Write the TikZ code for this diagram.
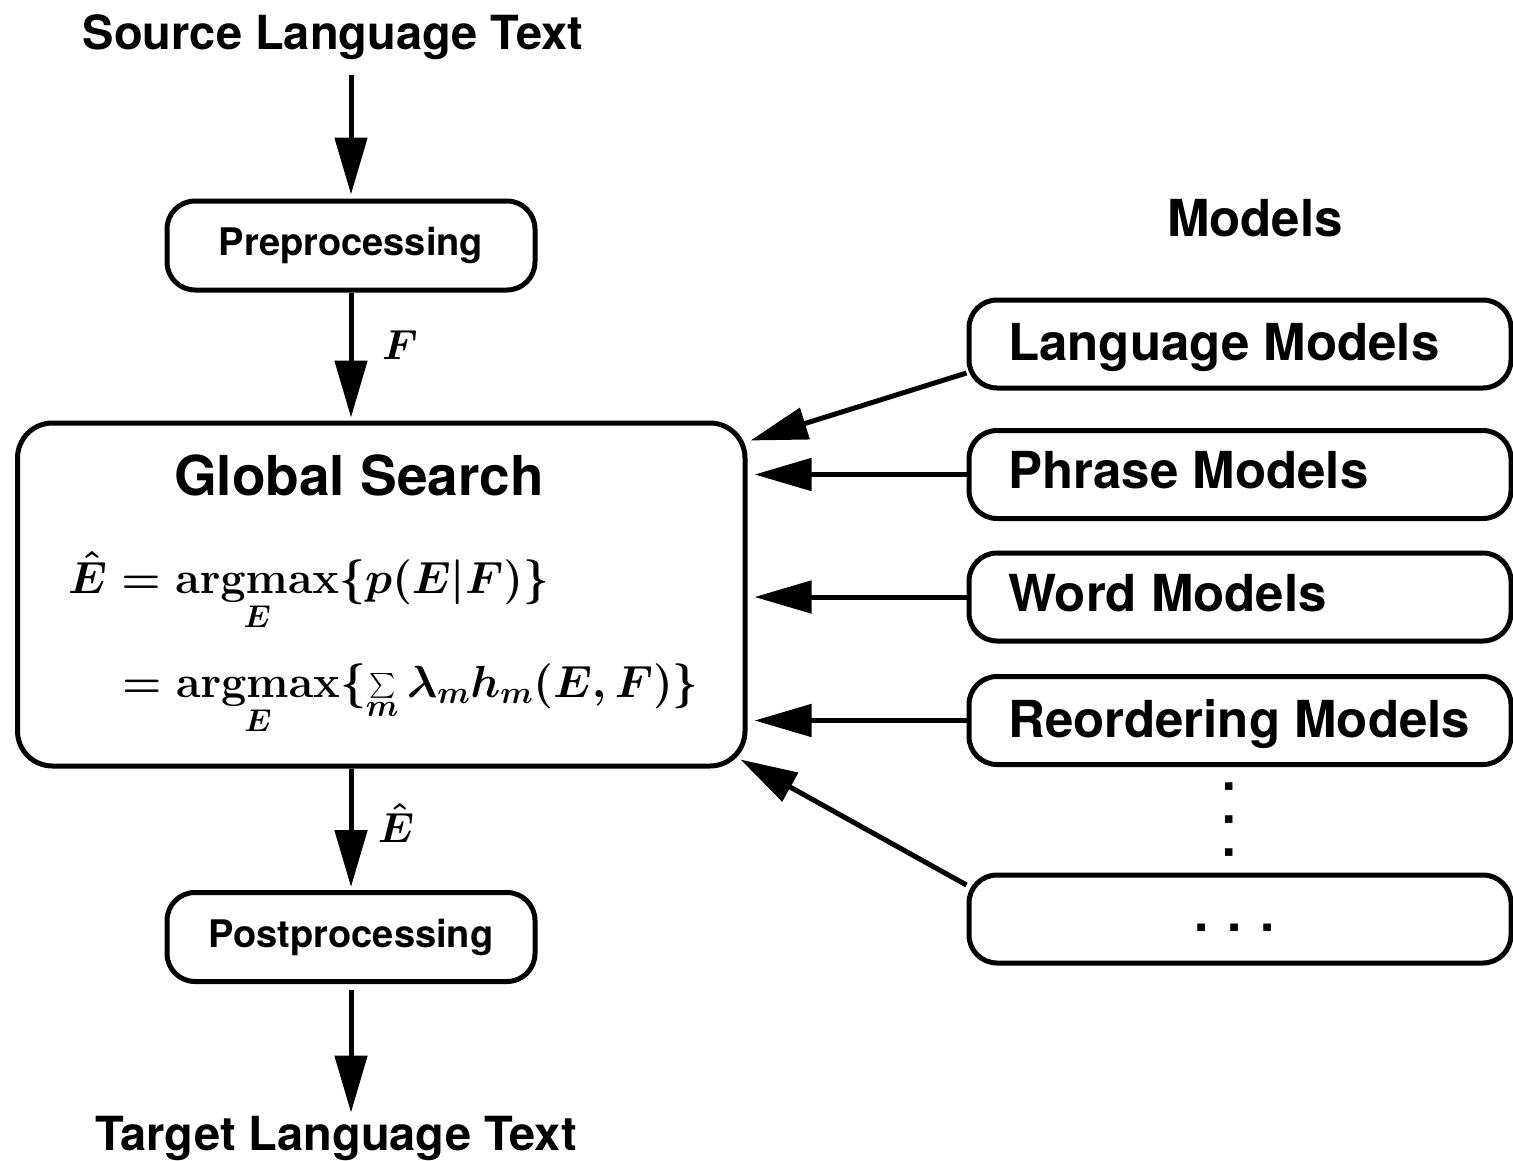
\RequirePackage{fix-cm}
\documentclass[tikz,border=0pt]{standalone}
\usepackage{amsmath}
\usepackage[no-math]{fontspec}
\setmainfont{TeX Gyre Heros}
\usetikzlibrary{arrows.meta}
\tikzset{
  arr/.style={line width=5pt, -{Triangle[length=57pt,width=32pt]}},
  procbox/.style={draw, line width=5pt, rounded corners=28pt, minimum width=368pt, minimum height=89pt, inner sep=0pt, font=\fontsize{38}{46}\selectfont\bfseries},
  mainbox/.style={draw, line width=5pt, rounded corners=35pt, minimum width=727.5pt, minimum height=343pt, inner sep=0pt},
  modelbox/.style={draw, line width=5pt, rounded corners=28pt, minimum width=542pt, minimum height=88pt, inner sep=0pt},
  modeltext/.style={anchor=base west, inner sep=0pt, font=\fontsize{51}{61}\selectfont\bfseries},
  titletext/.style={inner sep=0pt, anchor=base, font=\fontsize{47}{56}\selectfont\bfseries},
  mathlbl/.style={inner sep=0pt, font=\fontsize{42}{50}\selectfont\boldmath},
  formula/.style={inner sep=0pt, anchor=base west, font=\fontsize{45}{54}\selectfont\boldmath},
}
\begin{document}
\begin{tikzpicture}[x=1pt,y=-1pt]
\useasboundingbox (0,0) rectangle (1513,1160);
% left column
\node[titletext] (src) at (333,49) {Source Language Text};
\node[procbox] (pre) at (351,245.5) {Preprocessing};
\node[mainbox] (gs) at (381.25,594.5) {};
\node[inner sep=0pt, anchor=base, font=\fontsize{55}{66}\selectfont\bfseries] (gst) at (359,495) {Global Search};
\node[formula] (eq1) at (68,593) {$\hat{E} = \mathop{\mathrm{argmax}}\limits_{E}\{p(E|F)\}$};
\node[formula] (eq2) at (122,697) {$= \mathop{\mathrm{argmax}}\limits_{E}\{\sum\limits_{m}\lambda_{m}h_{m}(E,F)\}$};
\node[procbox] (post) at (351,937) {Postprocessing};
\node[titletext] (tgt) at (336,1150) {Target Language Text};
\node[mathlbl] (flbl) at (400,345) {$F$};
\node[mathlbl] (elbl) at (396,823) {$\hat{E}$};
% models
\node[modeltext, anchor=base] (mtitle) at (1255,236) {Models};
\node[modelbox] (lmbox) at (1240,344) {};
\node[modelbox] (pmbox) at (1240,474.5) {};
\node[modelbox] (wmbox) at (1240,597) {};
\node[modelbox] (rmbox) at (1240,720.5) {};
\node[modelbox] (dbox) at (1240,919) {};
\node[modeltext] (lmt) at (1008,360) {Language Models};
\node[modeltext] (pmt) at (1008,488) {Phrase Models};
\node[modeltext] (wmt) at (1008,611) {Word Models};
\node[modeltext] (rmt) at (1008,737) {Reordering Models};
\node[modeltext, anchor=center] (hdots) at (1235,928) {. . .};
\node[modeltext, anchor=center, rotate=-90] (vdots) at (1229,820) {. . .};
% connectors
\coordinate (gsr) at ([xshift=7pt]gs.east);
\draw[arr, shorten <=16pt, shorten >=4pt] (pre.north |- src.south) -- (pre.north);
\draw[arr, shorten >=3pt] (pre.south) -- (pre.south |- gs.north);
\draw[arr, shorten >=3pt] (post.north |- gs.south) -- (post.north);
\draw[arr, shorten <=6pt, shorten >=3pt] (post.south) -- (post.south |- tgt.north);
\draw[arr] ([yshift=-29pt]lmbox.west) -- ([xshift=3pt,yshift=-20pt]gs.north east);
\draw[arr] (pmbox.west) -- (gsr |- pmbox.west);
\draw[arr] (wmbox.west) -- (gsr |- wmbox.west);
\draw[arr] (rmbox.west) -- (gsr |- rmbox.west);
\draw[arr] ([yshift=34pt]dbox.west) -- ([xshift=-7pt,yshift=9pt]gs.south east);
\end{tikzpicture}
\end{document}
